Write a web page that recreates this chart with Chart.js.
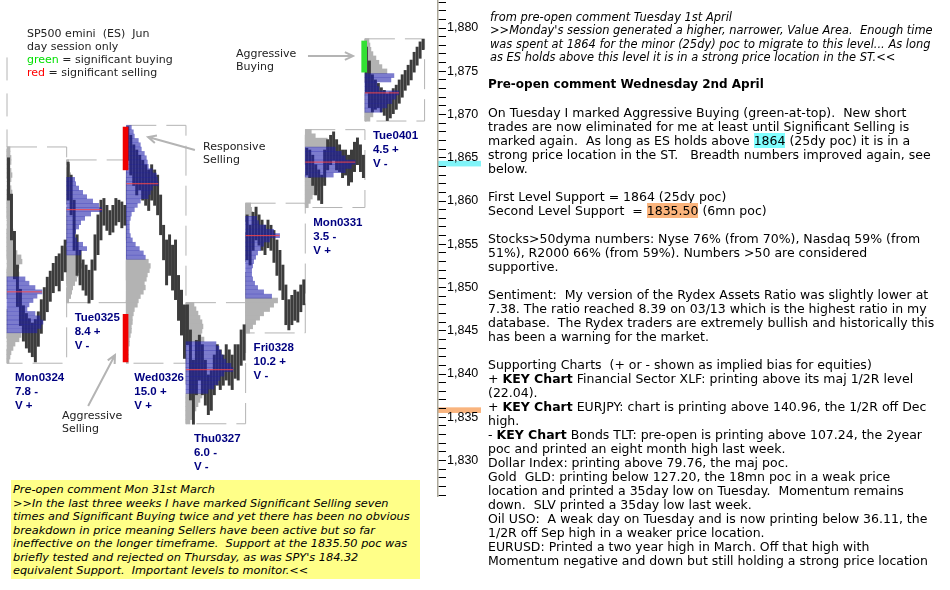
<!DOCTYPE html>
<html>
<head>
<meta charset="utf-8">
<script src="https://cdn.jsdelivr.net/npm/chart.js@4.4.1/dist/chart.umd.min.js"></script>
<style>
  html, body { margin: 0; padding: 0; background: #fff; }
  #wrap { position: relative; width: 950px; height: 590px; overflow: hidden;
          font-family: "DejaVu Sans", Verdana, sans-serif; color: #000; }
  #chart { position: absolute; left: 0; top: 0; }
  .blk { position: absolute; white-space: pre; }
  .note { font-size: 11px; line-height: 13px; color: #222; }
  .it { font-style: italic; }
  #prev { left: 490px; top: 11px; font-size: 11.45px; line-height: 13.3px; }
  #head { left: 488px; top: 77px; font-size: 12px; line-height: 14px; font-weight: bold; }
  #body { left: 488px; top: 106px; font-size: 12.5px; line-height: 14px; }
  #body div { height: 14px; }
  #body b { font-weight: bold; }
  .hl1 { background: #80ffff; }
  .hl2 { background: #fbb47c; }
  #yellow { left: 11px; top: 480px; width: 407px; height: 96px; padding: 3px 0 0 2px;
            background: #ffff88; font-size: 11.3px; line-height: 13.5px; }
</style>
</head>
<body>
<div id="wrap">
  <canvas id="chart" width="950" height="590"></canvas>

  <div class="blk note" style="left:27px; top:27px;">SP500 emini  (ES)  Jun
day session only
<span style="color:#00e000">green</span> = significant buying
<span style="color:#ff0000">red</span> = significant selling</div>
  <div class="blk note" style="left:236px; top:47px;">Aggressive
Buying</div>
  <div class="blk note" style="left:203px; top:140px;">Responsive
Selling</div>
  <div class="blk note" style="left:62px; top:409px;">Aggressive
Selling</div>

  <div id="prev" class="blk it"><div>from pre-open comment Tuesday 1st April</div><div>&gt;&gt;Monday's session generated a higher, narrower, Value Area.  Enough time</div><div>was spent at 1864 for the minor (25dy) poc to migrate to this level... As long</div><div>as ES holds above this level it is in a strong price location in the ST.&lt;&lt;</div></div>

  <div id="head" class="blk">Pre-open comment Wednesday 2nd April</div>

  <div id="body" class="blk"><div>On Tuesday I marked Aggressive Buying (green-at-top).  New short</div><div>trades are now eliminated for me at least until Significant Selling is</div><div>marked again.  As long as ES holds above <span class="hl1">1864</span> (25dy poc) it is in a</div><div>strong price location in the ST.   Breadth numbers improved again, see</div><div>below.</div><div></div><div>First Level Support = 1864 (25dy poc)</div><div>Second Level Support  = <span class="hl2">1835.50</span> (6mn poc)</div><div></div><div>Stocks&gt;50dyma numbers: Nyse 76% (from 70%), Nasdaq 59% (from</div><div>51%), R2000 66% (from 59%). Numbers &gt;50 are considered</div><div>supportive.</div><div></div><div>Sentiment:  My version of the Rydex Assets Ratio was slightly lower at</div><div>7.38. The ratio reached 8.39 on 03/13 which is the highest ratio in my</div><div>database.  The Rydex traders are extremely bullish and historically this</div><div>has been a warning for the market.</div><div></div><div>Supporting Charts  (+ or - shown as implied bias for equities)</div><div>+ <b>KEY Chart</b> Financial Sector XLF: printing above its maj 1/2R level</div><div>(22.04).</div><div>+ <b>KEY Chart</b> EURJPY: chart is printing above 140.96, the 1/2R off Dec</div><div>high.</div><div>- <b>KEY Chart</b> Bonds TLT: pre-open is printing above 107.24, the 2year</div><div>poc and printed an eight month high last week.</div><div>Dollar Index: printing above 79.76, the maj poc.</div><div>Gold  GLD: printing below 127.20, the 18mn poc in a weak price</div><div>location and printed a 35day low on Tuesday.  Momentum remains</div><div>down.  SLV printed a 35day low last week.</div><div>Oil USO:  A weak day on Tuesday and is now printing below 36.11, the</div><div>1/2R off Sep high in a weaker price location.</div><div>EURUSD: Printed a two year high in March. Off that high with</div><div>Momentum negative and down but still holding a strong price location</div></div>

  <div id="yellow" class="blk it">Pre-open comment Mon 31st March
&gt;&gt;In the last three weeks I have marked Significant Selling seven
times and Significant Buying twice and yet there has been no obvious
breakdown in price meaning Sellers have been active but so far
ineffective on the longer timeframe.  Support at the 1835.50 poc was
briefly tested and rejected on Thursday, as was SPY's 184.32
equivalent Support.  Important levels to monitor.&lt;&lt;</div>
</div>

<script>
// ES day sessions, left to right
const days = ["Mon0324", "Tue0325", "Wed0326", "Thu0327", "Fri0328", "Mon0331", "Tue0401"]
const rangeNotes = ["7.8 -", "8.4 +", "15.0 +", "6.0 -", "10.2 +", "3.5 -", "4.5 +"]
const volNotes = ["V +", "V -", "V +", "V -", "V -", "V +", "V -"]

// volume profile per day: top price of the first row, then one width per 0.5 pt row
const profileTop = [1866.0, 1864.5, 1868.5, 1848.0, 1859.5, 1868.0, 1878.5]
const profiles = [
  [3,3,4,4,3,4,5,4,3,4, 5,4,5,4,3,4,5,4,5,6, 5,7,6,8,10,14,15,12,10,12,
   18,22,28,35,30,26,22,20,28,33, 36,34,30,14,12,8,6,4,3,2],
  [2,3,3,4, 8,9,12,16,20,26,32,35,24,18,14,12,9,8,10,16,20,14,
   12,13,15,14,11,10,8,6,5,4,2],
  [5,7,8,12,14,15,18,20,21,22, 26,30,31,32,26,24,22,14,11,8,
   5,4,3,3,3,4,6,9,13,17, 19, 22,24,23,21,20,18,19,17,14,
   12,11,8,7,6,6,5,5,4,3, 3,2,2,2,2],
  [8,10,12,14,16,17,16,15,18, 30,33,35,37,40,45,47,38,34,32,28,22,
   16,14,12,10,8,6,4],
  [5,6,7, 11,13,20,28,34,24,18,15,12,10,8,7,6,6,7,9,12,18,26,
   32,28,24,18,14,10,7,4],
  [6,10,22,26, 30,36,40,50,46,40,28, 20,16,12,10,7,5,3],
  [4,5,6,8,11,14,17,22, 29,26,12,14,34,31,27,22,17, 8,5]
]
const vaHigh = [1851.0, 1862.5, 1868.5, 1843.5, 1858.0, 1866.0, 1874.5]
const vaLow = [1845.0, 1854.0, 1853.5, 1838.0, 1849.0, 1863.0, 1870.5]
const poc = [1849.5, 1859.0, 1862.0, 1840.5, 1856.0, 1864.5, 1872.5]

// price bars per day: [low, high]
const dayBars = [
  [[1860.1,1865.0],[1855.5,1860.8],[1851.0,1856.5],[1847.8,1852.6],[1845.6,1849.8],
   [1843.8,1847.9],[1843.0,1847.0],[1842.5,1846.4],[1842.0,1845.9],[1841.4,1846.3],
   [1843.2,1847.2],[1844.7,1848.6],[1846.2,1850.0],[1847.2,1851.2],[1848.4,1851.9],
   [1849.4,1852.8],[1850.2,1853.6],[1849.6,1853.9],[1850.8,1854.8],[1851.8,1855.5]],
  [[1860.1,1864.5],[1858.4,1863.0],[1854.3,1860.1],[1851.4,1856.1],[1850.3,1854.3],
   [1849.7,1853.2],[1849.1,1852.6],[1848.2,1852.0],[1848.6,1853.2],[1852.0,1856.1],
   [1853.8,1858.4],[1855.5,1860.1],[1857.2,1860.3],[1856.6,1859.5],[1856.1,1858.9],
   [1856.4,1859.5],[1857.2,1860.3],[1857.6,1860.1],[1856.9,1859.9],[1857.2,1859.5]],
  [[1864.7,1868.6],[1863.0,1867.6],[1861.8,1866.5],[1860.7,1865.9],[1861.3,1865.3],
   [1860.1,1864.7],[1859.5,1864.2],[1858.9,1863.6],[1860.1,1864.2],[1859.5,1863.6],
   [1858.4,1863.0],[1856.1,1860.7],[1853.2,1857.2],[1850.3,1855.5],[1851.4,1856.1],
   [1849.7,1854.9],[1848.6,1855.5],[1846.2,1851.4],[1844.5,1849.7],[1841.8,1848.0]],
  [[1843.4,1848.0],[1837.0,1845.1],[1834.2,1841.6],[1837.6,1843.9],[1839.3,1844.5],
   [1837.6,1843.4],[1836.4,1841.6],[1835.3,1839.9],[1835.8,1840.4],[1837.6,1842.2],
   [1838.7,1843.4],[1838.2,1842.8],[1838.7,1842.2],[1839.3,1843.4],[1838.7,1842.8],
   [1838.2,1842.2],[1839.5,1843.4],[1839.3,1843.4],[1841.0,1845.1],[1841.6,1845.7]],
  [[1853.2,1858.4],[1852.6,1857.2],[1854.3,1858.7],[1855.5,1859.3],[1854.9,1858.4],
   [1854.3,1857.8],[1853.8,1857.2],[1854.6,1857.8],[1854.3,1857.2],[1852.9,1856.6],
   [1851.4,1855.5],[1849.7,1854.3],[1848.6,1852.6],[1845.7,1850.3],[1845.1,1848.6],
   [1845.7,1849.1],[1846.2,1849.7],[1846.0,1849.5],[1847.2,1850.3],[1848.0,1850.9]],
  [[1863.0,1866.1],[1862.7,1865.9],[1861.8,1865.3],[1860.7,1864.2],[1860.1,1863.6],
   [1859.7,1863.0],[1861.8,1865.9],[1863.6,1867.1],[1864.2,1867.6],[1864.7,1868.0],
   [1863.6,1867.1],[1863.4,1866.5],[1862.7,1865.9],[1863.0,1865.9],[1861.8,1865.3],
   [1862.2,1865.9],[1863.4,1866.8],[1864.2,1867.3],[1863.4,1866.5],[1862.7,1865.3]],
  [[1872.5,1877.8],[1870.8,1876.2],[1870.3,1874.6],[1870.6,1874.0],[1870.8,1873.6],
   [1870.3,1873.1],[1869.9,1872.8],[1869.3,1872.4],[1869.6,1872.6],[1870.1,1873.0],
   [1870.6,1873.4],[1871.3,1874.0],[1872.0,1874.6],[1872.8,1875.1],[1873.4,1875.7],
   [1874.0,1876.3],[1874.9,1877.2],[1875.7,1877.8],[1876.5,1878.4],[1877.5,1878.7]]
]

// significant buying / selling marks: day, low, high
const signalDay = [2, 2, 6]
const signalLow = [1863.6, 1841.4, 1874.9]
const signalHigh = [1868.55, 1846.9, 1878.5]
const signalColor = ["#f00000", "#f00000", "#33e033"]

// prior session edge (cut off at the left)
const priorTop = 1876.6

// levels marked on the price axis
const levels = [1864.0, 1835.5]
const levelColors = ["#80f4f8", "#f9b47e"]

// arrows: [day-units x, price] from -> to
const arrows = [
  [[100.9, 1876.76], [116.0, 1876.76]],
  [[63.0, 1865.9], [47.3, 1867.4]],
  [[27.2, 1836.3], [36.2, 1842.2]]
]

const BIN = 0.5
const DAY_BARS = 20
const TPO_UNITS = 0.335

const boxHigh = i => profileTop[i] + BIN / 2
const boxLow = i => profileTop[i] - (profiles[i].length - 1) * BIN - BIN / 2

const priceBars = [], vaRows = [], outRows = [], pocLines = [], boxes = [], signals = []
days.forEach((d, i) => {
  const x0 = i * DAY_BARS
  dayBars[i].forEach((r, j) => priceBars.push({ x: x0 + j + 0.5, y: r }))
  profiles[i].forEach((w, k) => {
    const p = profileTop[i] - k * BIN
    const row = { y: p, x: [x0, x0 + w * TPO_UNITS] }
    if (p <= vaHigh[i] && p >= vaLow[i]) vaRows.push(row)
    else outRows.push(row)
  })
  const pk = Math.round((profileTop[i] - poc[i]) / BIN)
  pocLines.push({ x: x0, y: poc[i] }, { x: x0 + profiles[i][pk] * TPO_UNITS, y: poc[i] }, { x: x0, y: null })
  const hi = boxHigh(i), lo = boxLow(i), x1 = x0 + DAY_BARS
  boxes.push({ x: x0, y: hi }, { x: x1, y: hi }, { x: x1, y: lo }, { x: x0, y: lo }, { x: x0, y: hi }, { x: x0, y: null })
})
signalDay.forEach((d, i) => signals.push({ x: d * DAY_BARS - 0.25, y: [signalLow[i], signalHigh[i]] }))
const priorEdge = [{ x: 0, y: priorTop }, { x: 0, y: boxHigh(0) }]

const overlay = {
  id: "overlay",
  beforeDraw(chart) {
    const { ctx, scales: { y }, chartArea } = chart
    ctx.save()
    levels.forEach((lv, i) => {
      const top = y.getPixelForValue(lv + 0.65)
      const bot = y.getPixelForValue(lv)
      ctx.fillStyle = levelColors[i]
      ctx.fillRect(chartArea.right - 1, top, 44, bot - top)
    })
    ctx.restore()
  },
  afterDatasetsDraw(chart) {
    const { ctx, scales: { x, y } } = chart
    ctx.save()
    // arrows
    ctx.strokeStyle = "#b4b4b4"
    ctx.lineWidth = 2
    arrows.forEach(([a, b]) => {
      const x1 = x.getPixelForValue(a[0]), y1 = y.getPixelForValue(a[1])
      const x2 = x.getPixelForValue(b[0]), y2 = y.getPixelForValue(b[1])
      const ang = Math.atan2(y2 - y1, x2 - x1)
      ctx.beginPath()
      ctx.moveTo(x1, y1)
      ctx.lineTo(x2, y2)
      ctx.moveTo(x2 - 9 * Math.cos(ang - 0.45), y2 - 9 * Math.sin(ang - 0.45))
      ctx.lineTo(x2, y2)
      ctx.lineTo(x2 - 9 * Math.cos(ang + 0.45), y2 - 9 * Math.sin(ang + 0.45))
      ctx.stroke()
    })
    // day labels under each box
    ctx.fillStyle = "#000080"
    ctx.font = 'bold 11.5px "Liberation Sans"'
    ctx.textBaseline = "middle"
    days.forEach((d, i) => {
      const px = x.getPixelForValue(i * DAY_BARS) + 8
      const py = y.getPixelForValue(boxLow(i)) + 15
      ;[d, rangeNotes[i], volNotes[i]].forEach((t, k) => ctx.fillText(t, px, py + k * 14))
    })
    ctx.restore()
  }
}

new Chart(document.getElementById("chart"), {
  type: "bar",
  data: {
    datasets: [
      { type: "line", data: boxes, borderColor: "#b4b4b4", borderWidth: 1, borderDash: [30, 10],
        pointRadius: 0, order: 7 },
      { type: "line", data: priorEdge, borderColor: "#b4b4b4", borderWidth: 1, borderDash: [23, 13],
        pointRadius: 0, order: 7 },
      { data: outRows, indexAxis: "y", backgroundColor: "#b3b3b3", barThickness: 4.7,
        grouped: false, order: 6 },
      { data: priceBars, backgroundColor: "#3c3c3c", barThickness: 2.3, grouped: false, order: 5 },
      { data: vaRows, indexAxis: "y", backgroundColor: "rgba(30,30,170,0.58)", barThickness: 4.05,
        grouped: false, order: 3 },
      { type: "line", data: pocLines, borderColor: "rgba(255,70,70,0.9)", borderWidth: 1,
        pointRadius: 0, order: 2 },
      { data: signals, backgroundColor: signalColor, barThickness: 5, grouped: false, order: 1 }
    ]
  },
  options: {
    responsive: false,
    animation: false,
    events: [],
    layout: { padding: { left: 0, top: 0, right: 462, bottom: 94 } },
    plugins: { legend: { display: false }, tooltip: { enabled: false } },
    scales: {
      x: { type: "linear", display: false, min: -2.35, max: 144.5, offset: false, grid: { offset: false } },
      y: {
        type: "linear", position: "right", min: 1825.9, max: 1883.24, offset: false,
        ticks: {
          stepSize: 1, includeBounds: false, autoSkip: false, padding: 1, color: "#000",
          font: { family: "Liberation Sans", size: 12.5 },
          callback: v => (v % 5 === 0 ? v.toLocaleString("en-US") : "")
        },
        grid: { offset: false, drawOnChartArea: false, tickLength: 8, tickColor: "#000", tickWidth: 1 },
        border: { display: true, color: "#aca899", width: 1.5 },
        afterFit: s => { s.width = 50; s.paddingTop = 0; s.paddingBottom = 0 }
      }
    }
  },
  plugins: [overlay]
})
</script>
</body>
</html>
